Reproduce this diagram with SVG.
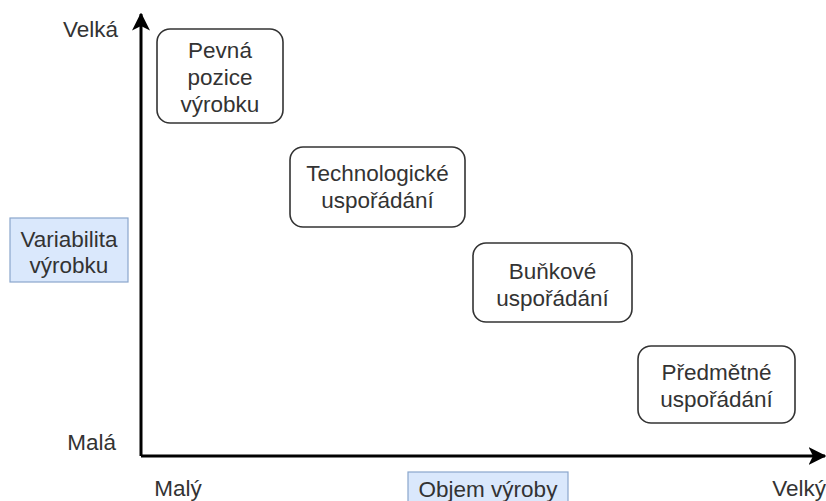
<svg xmlns="http://www.w3.org/2000/svg" width="826" height="501" viewBox="0 0 826 501">
  <style>
    text { font-family: "Liberation Sans", Arial, sans-serif; font-size: 22.5px; fill: #333333; }
    .c { text-anchor: middle; }
    .e { text-anchor: end; }
    .node { fill: #ffffff; stroke: #333333; stroke-width: 1.6; }
    .tag { fill: #dae8fc; stroke: #8aa6cc; stroke-width: 1.2; }
    .axis { fill: none; stroke: #000000; stroke-width: 3; }
  </style>
  <defs>
    <marker id="arrow" viewBox="0 0 12 12" refX="11" refY="6" markerWidth="6" markerHeight="6" markerUnits="strokeWidth" orient="auto">
      <path d="M0,0 L12,6 L0,12 L3,6 Z" fill="#000000"/>
    </marker>
  </defs>
  <rect width="826" height="501" fill="#ffffff"/>

  <!-- axes -->
  <g id="connectors">
    <path class="axis" d="M141,456 L141,14" marker-end="url(#arrow)"/>
    <path class="axis" d="M141,456 L825,456" marker-end="url(#arrow)"/>
  </g>

  <!-- axis labels -->
  <g id="label-velka"><text class="e" x="118" y="37">Velká</text></g>
  <g id="label-mala"><text class="e" x="116" y="450">Malá</text></g>
  <g id="label-maly"><text class="c" x="178" y="496">Malý</text></g>
  <g id="label-velky"><text class="e" x="826" y="496">Velký</text></g>

  <g id="variabilita">
    <rect class="tag" x="10" y="218" width="118" height="64"/>
    <text class="c" x="69" y="247">Variabilita</text>
    <text class="c" x="69" y="273">výrobku</text>
  </g>

  <g id="objem">
    <rect class="tag" x="408" y="472" width="160" height="32"/>
    <text class="c" x="488" y="497">Objem výroby</text>
  </g>

  <!-- layout types -->
  <g id="pevna-pozice">
    <rect class="node" x="157" y="29" width="126" height="94" rx="13"/>
    <text class="c" x="220" y="58">Pevná</text>
    <text class="c" x="220" y="85">pozice</text>
    <text class="c" x="220" y="112">výrobku</text>
  </g>

  <g id="technologicke">
    <rect class="node" x="290" y="147" width="175" height="80" rx="13"/>
    <text class="c" x="377.5" y="181">Technologické</text>
    <text class="c" x="377.5" y="208">uspořádání</text>
  </g>

  <g id="bunkove">
    <rect class="node" x="473" y="243" width="159" height="79" rx="13"/>
    <text class="c" x="552.5" y="279">Buňkové</text>
    <text class="c" x="552.5" y="306">uspořádání</text>
  </g>

  <g id="predmetne">
    <rect class="node" x="638" y="346" width="157" height="77" rx="13"/>
    <text class="c" x="716.5" y="380">Předmětné</text>
    <text class="c" x="716.5" y="407">uspořádání</text>
  </g>
</svg>
